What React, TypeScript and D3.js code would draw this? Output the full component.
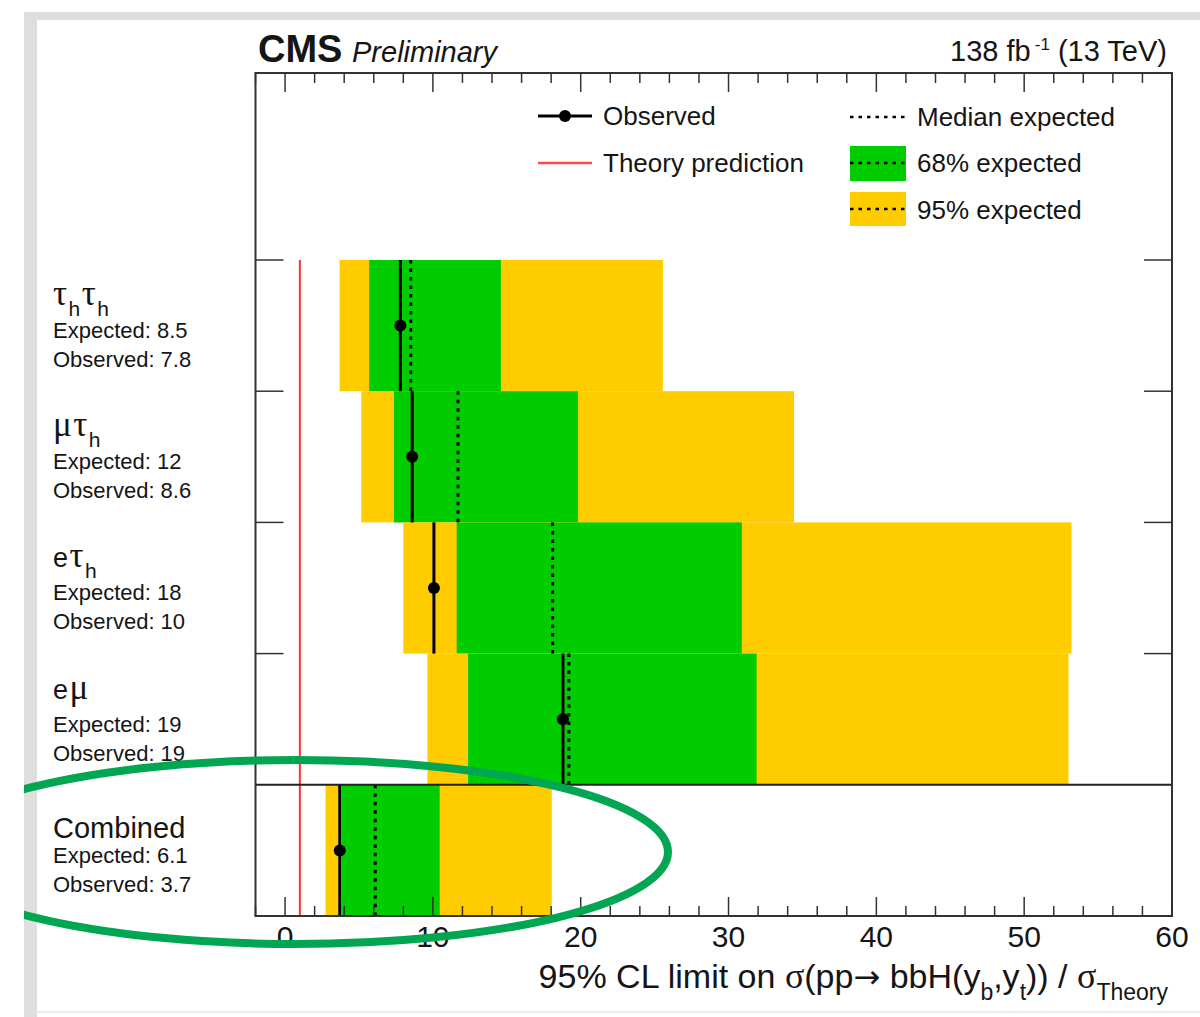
import React from 'react';
import * as d3 from 'd3';

// Channels, top to bottom
const channels = ['tt', 'mt', 'et', 'em', 'comb'];
const channelTitles = ['τ_hτ_h', 'μτ_h', 'eτ_h', 'eμ', 'Combined'];

// 95% CL upper limits on sigma / sigma_theory
const observed = [7.8, 8.6, 10.07, 18.8, 3.7];
const expected = [8.5, 11.7, 18.1, 19.2, 6.1];
const band68Lo = [5.69, 7.37, 11.61, 12.38, 3.83];
const band68Hi = [14.6, 19.82, 30.9, 31.9, 10.46];
const band95Lo = [3.69, 5.16, 8.0, 9.63, 2.74];
const band95Hi = [25.56, 34.43, 53.2, 53.0, 18.04];
const theoryValue = 1;

const xDomain = [-2, 60];
const majorTicks = [0, 10, 20, 30, 40, 50, 60];
const minorStep = 2;

const W = 1200;
const H = 1017;
const frame = { left: 255.5, right: 1172, top: 73, bottom: 916 };
const rowsTop = 260;

const SANS = 'Liberation Sans, Arial, Helvetica, sans-serif';
const SERIF = 'Liberation Serif, Times New Roman, serif';
const GREEN = '#00cc00';
const YELLOW = '#ffcc00';
const TXT = '#151515';
const fmt = d3.format('.2');

// Split "τ_hτ_h"-style strings into glyph runs with subscripts
function richSpans(str: string, size: number, subSize: number, subDy: number) {
  const out: JSX.Element[] = [];
  let inSub = false;
  let i = 0;
  let k = 0;
  while (i < str.length) {
    let ch = str[i];
    let sub = false;
    if (ch === '_') {
      sub = true;
      i++;
      ch = str[i];
    }
    const greek = /[α-ωΑ-Ω]/.test(ch);
    let dy = 0;
    if (sub && !inSub) dy = subDy;
    if (!sub && inSub) dy = -subDy;
    inSub = sub;
    out.push(
      <tspan
        key={k++}
        dy={dy}
        dx={sub ? 1.5 : greek && k > 0 ? 1.5 : 0}
        fontFamily={greek ? SERIF : SANS}
        fontSize={sub ? subSize : greek ? size + 8 : size}
      >
        {ch}
      </tspan>
    );
    i++;
  }
  return out;
}

export default function App() {
  const x = d3.scaleLinear().domain(xDomain).range([frame.left, frame.right]);
  const y = d3.scaleBand<string>().domain(channels).range([rowsTop, frame.bottom]);
  const bw = y.bandwidth();
  const minorTicks = d3
    .range(xDomain[0], xDomain[1] + 0.001, minorStep)
    .filter((v) => !majorTicks.includes(v));
  const rowEdges = channels.slice(0, 4).map((c) => y(c) as number);
  const sepY = y('comb') as number;

  return (
    <svg
      width={W}
      height={H}
      viewBox={`0 0 ${W} ${H}`}
      style={{ position: 'absolute', left: 0, top: 0, background: '#fff' }}
    >
      {/* window frame */}
      <rect x={0} y={0} width={W} height={H} fill="#fff" />
      <rect x={24} y={12} width={W - 24} height={H - 12} fill="#dedede" />
      <rect x={37} y={20} width={W - 37} height={H - 20} fill="#fff" />
      <rect x={37} y={1011} width={W - 37} height={2} fill="#ececec" />

      {/* expected bands */}
      {channels.map((c, i) => (
        <g key={c}>
          <rect
            x={x(band95Lo[i])}
            y={y(c)}
            width={x(band95Hi[i]) - x(band95Lo[i])}
            height={bw}
            fill={YELLOW}
          />
          <rect
            x={x(band68Lo[i])}
            y={y(c)}
            width={x(band68Hi[i]) - x(band68Lo[i])}
            height={bw}
            fill={GREEN}
          />
        </g>
      ))}

      {/* theory prediction */}
      <line
        x1={x(theoryValue)}
        x2={x(theoryValue)}
        y1={rowsTop}
        y2={frame.bottom}
        stroke="#ff3030"
        strokeWidth={2}
      />

      {/* median expected and observed */}
      {channels.map((c, i) => {
        const y0 = y(c) as number;
        return (
          <g key={c}>
            <line
              x1={x(expected[i])}
              x2={x(expected[i])}
              y1={y0}
              y2={y0 + bw}
              stroke="#000"
              strokeWidth={3}
              strokeDasharray="3.5 5"
            />
            <line
              x1={x(observed[i])}
              x2={x(observed[i])}
              y1={y0}
              y2={y0 + bw}
              stroke="#000"
              strokeWidth={3}
            />
            <circle cx={x(observed[i])} cy={y0 + bw / 2} r={6} fill="#000" />
          </g>
        );
      })}

      {/* separator above the combined result */}
      <line x1={frame.left} x2={frame.right} y1={sepY} y2={sepY} stroke="#222" strokeWidth={2} />

      {/* frame */}
      <rect
        x={frame.left}
        y={frame.top}
        width={frame.right - frame.left}
        height={frame.bottom - frame.top}
        fill="none"
        stroke="#333"
        strokeWidth={2}
      />

      {/* x ticks, bottom and top */}
      {majorTicks.map((v) => (
        <g key={'M' + v}>
          <line x1={x(v)} x2={x(v)} y1={frame.bottom} y2={frame.bottom - 19} stroke="#333" strokeWidth={1.5} />
          <line x1={x(v)} x2={x(v)} y1={frame.top} y2={frame.top + 19} stroke="#333" strokeWidth={1.5} />
          <text
            x={x(v)}
            y={947}
            textAnchor="middle"
            fontFamily={SANS}
            fontSize={30}
            fill={TXT}
          >
            {v}
          </text>
        </g>
      ))}
      {minorTicks.map((v) => (
        <g key={'m' + v}>
          <line x1={x(v)} x2={x(v)} y1={frame.bottom} y2={frame.bottom - 10} stroke="#333" strokeWidth={1.5} />
          <line x1={x(v)} x2={x(v)} y1={frame.top} y2={frame.top + 10} stroke="#333" strokeWidth={1.5} />
        </g>
      ))}

      {/* y ticks at row edges */}
      {rowEdges.map((yy, i) => (
        <g key={'y' + i}>
          <line x1={frame.left} x2={frame.left + 28} y1={yy} y2={yy} stroke="#333" strokeWidth={1.5} />
          <line x1={frame.right} x2={frame.right - 28} y1={yy} y2={yy} stroke="#333" strokeWidth={1.5} />
        </g>
      ))}

      {/* channel labels */}
      {channels.map((c, i) => {
        const y0 = y(c) as number;
        const isComb = c === 'comb';
        return (
          <g key={'lab' + c} fill={TXT}>
            <text x={53} y={y0 + (isComb ? 53 : 45)} fontFamily={SANS} fontSize={isComb ? 29 : 27}>
              {richSpans(channelTitles[i], isComb ? 29 : 27, 21, 11)}
            </text>
            <text x={53} y={y0 + 78} fontFamily={SANS} fontSize={22}>
              {`Expected: ${fmt(expected[i])}`}
            </text>
            <text x={53} y={y0 + 107} fontFamily={SANS} fontSize={22}>
              {`Observed: ${fmt(observed[i])}`}
            </text>
          </g>
        );
      })}

      {/* header */}
      <text x={258} y={62} fontFamily={SANS} fontWeight="bold" fontSize={38} fill={TXT}>
        CMS
      </text>
      <text x={352} y={62} fontFamily={SANS} fontStyle="italic" fontSize={29} fill={TXT}>
        Preliminary
      </text>
      <text x={1167} y={61} textAnchor="end" fontFamily={SANS} fontSize={29} fill={TXT}>
        138 fb
        <tspan dx={4} dy={-11} fontSize={17}>
          -1
        </tspan>
        <tspan dy={11}> (13 TeV)</tspan>
      </text>

      {/* legend */}
      <g fontFamily={SANS} fontSize={26} fill={TXT}>
        <line x1={538} x2={592} y1={116} y2={116} stroke="#000" strokeWidth={3} />
        <circle cx={565} cy={116} r={6} fill="#000" />
        <text x={603} y={125}>Observed</text>

        <line x1={538} x2={592} y1={163} y2={163} stroke="#ff4848" strokeWidth={2.5} />
        <text x={603} y={172}>Theory prediction</text>

        <line x1={850} x2={906} y1={117} y2={117} stroke="#000" strokeWidth={2.5} strokeDasharray="3.5 5" />
        <text x={917} y={126}>Median expected</text>

        <rect x={850} y={146} width={56} height={35} fill={GREEN} />
        <line x1={850} x2={906} y1={163} y2={163} stroke="#000" strokeWidth={2.5} strokeDasharray="3.5 5" />
        <text x={917} y={172}>68% expected</text>

        <rect x={850} y={192} width={56} height={34} fill={YELLOW} />
        <line x1={850} x2={906} y1={209} y2={209} stroke="#000" strokeWidth={2.5} strokeDasharray="3.5 5" />
        <text x={917} y={219}>95% expected</text>
      </g>

      {/* x axis title */}
      <text x={1168} y={988} textAnchor="end" fontFamily={SANS} fontSize={34} fill={TXT}>
        95% CL limit on <tspan fontFamily={SERIF} fontSize={36}>σ</tspan>(pp
        <tspan fontFamily="DejaVu Sans" fontSize={32}>→</tspan> bbH(y
        <tspan dy={12} fontSize={23}>b</tspan>
        <tspan dy={-12}>,y</tspan>
        <tspan dy={12} fontSize={23}>t</tspan>
        <tspan dy={-12}>)) / </tspan>
        <tspan fontFamily={SERIF} fontSize={36}>σ</tspan>
        <tspan dy={12} fontSize={23}>Theory</tspan>
      </text>

      {/* highlight around the combined result */}
      <defs>
        <clipPath id="winClip">
          <rect x={24} y={0} width={W - 24} height={H} />
        </clipPath>
      </defs>
      <ellipse
        cx={296}
        cy={852}
        rx={372}
        ry={92}
        fill="none"
        stroke="#00a651"
        strokeWidth={8}
        clipPath="url(#winClip)"
      />
    </svg>
  );
}
